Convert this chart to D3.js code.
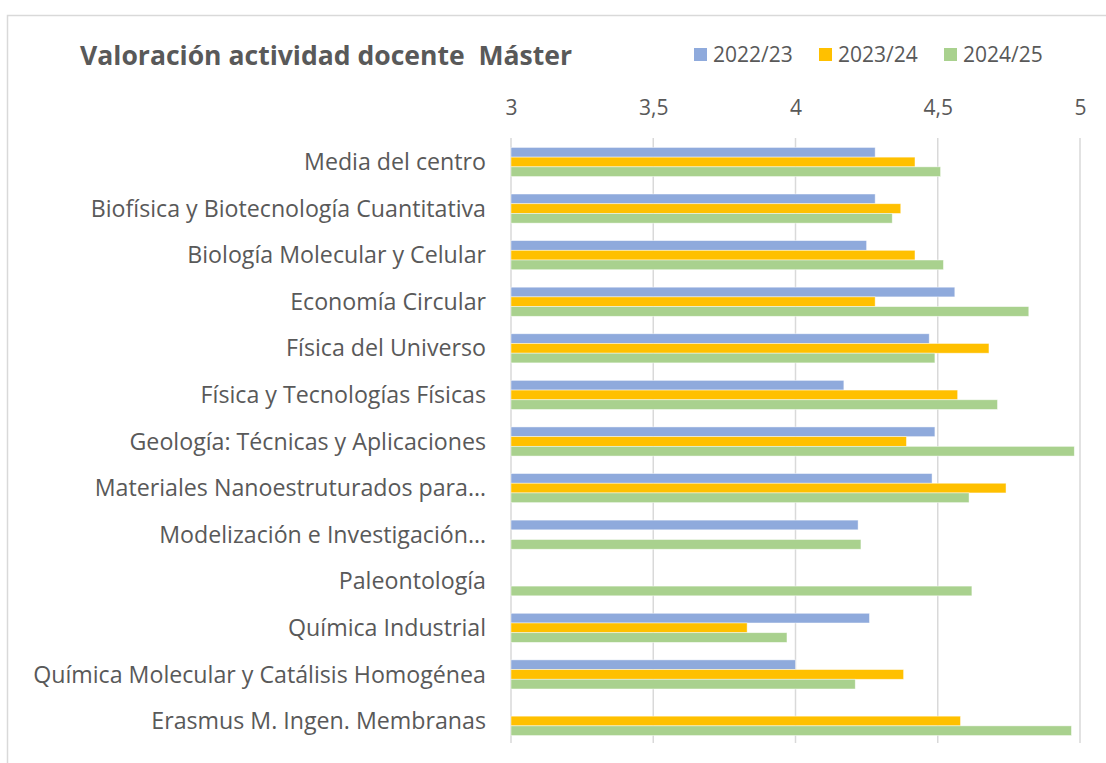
<!DOCTYPE html>
<html>
<head>
<meta charset="utf-8">
<script src="https://cdn.jsdelivr.net/npm/d3@7"></script>
<style>
  body { margin: 0; background: #fff; }
  svg text { font-family: "Open Sans", "Noto Sans", sans-serif; fill: #595959; }
</style>
</head>
<body>
<svg id="chart" width="1106" height="763"></svg>
<script>
// categorias (de arriba a abajo)
var categorias = [
  "Media del centro",
  "Biofísica y Biotecnología Cuantitativa",
  "Biología Molecular y Celular",
  "Economía Circular",
  "Física del Universo",
  "Física y Tecnologías Físicas",
  "Geología: Técnicas y Aplicaciones",
  "Materiales Nanoestruturados para…",
  "Modelización e Investigación…",
  "Paleontología",
  "Química Industrial",
  "Química Molecular y Catálisis Homogénea",
  "Erasmus M. Ingen. Membranas"
];
var cursos = ["2022/23", "2023/24", "2024/25"];
var curso_2022 = [4.28, 4.28, 4.25, 4.56, 4.47, 4.17, 4.49, 4.48, 4.22, null, 4.26, 4.00, null];
var curso_2023 = [4.42, 4.37, 4.42, 4.28, 4.68, 4.57, 4.39, 4.74, null, null, 3.83, 4.38, 4.58];
var curso_2024 = [4.51, 4.34, 4.52, 4.82, 4.49, 4.71, 4.98, 4.61, 4.23, 4.62, 3.97, 4.21, 4.97];
var ticks = [3, 3.5, 4, 4.5, 5];
var colores = ["#8FAADC", "#FFC000", "#A9D18E"];

var series = [curso_2022, curso_2023, curso_2024];

var svg = d3.select("#chart");

// marco del grafico
svg.append("rect")
  .attr("x", 7.5).attr("y", 15.5)
  .attr("width", 1110).attr("height", 760)
  .attr("fill", "none")
  .attr("stroke", "#d9d9d9")
  .attr("stroke-width", 1.5);

var x = d3.scaleLinear().domain([3, 5]).range([511, 1080]);
var y = d3.scaleBand().domain(categorias).range([138.7, 744.3])
  .paddingInner(0.375).paddingOuter(0.1875);
var ySub = d3.scaleBand().domain(cursos).range([0, y.bandwidth()]);

var loc = d3.formatLocale({ decimal: ",", thousands: ".", grouping: [3], currency: ["", "€"] });
var fmt = loc.format("");

// lineas de cuadricula
svg.append("g")
  .selectAll("line")
  .data(ticks)
  .enter().append("line")
    .attr("x1", function(d) { return x(d); })
    .attr("x2", function(d) { return x(d); })
    .attr("y1", 138)
    .attr("y2", 743)
    .attr("stroke", "#d9d9d9")
    .attr("stroke-width", 1.5);

// eje superior
var ax = svg.append("g")
  .attr("transform", "translate(0,115)")
  .call(d3.axisTop(x).tickValues(ticks).tickFormat(fmt).tickSize(0).tickPadding(0));
ax.select(".domain").remove();
ax.selectAll("text")
  .attr("font-size", "21px")
  .style("font-family", "\"Open Sans\", sans-serif")
  .attr("fill", "#595959");

// barras
series.forEach(function(vals, i) {
  svg.append("g")
    .selectAll("rect")
    .data(vals.map(function(v, j) { return { cat: categorias[j], v: v }; })
               .filter(function(d) { return d.v !== null; }))
    .enter().append("rect")
      .attr("x", x(3))
      .attr("y", function(d) { return y(d.cat) + ySub(cursos[i]); })
      .attr("width", function(d) { return x(d.v) - x(3); })
      .attr("height", ySub.bandwidth())
      .attr("fill", colores[i])
      .attr("stroke", "#ffffff")
      .attr("stroke-opacity", 0.6)
      .attr("stroke-width", 0.75);
});

// etiquetas de categorias
var labs = svg.append("g")
  .selectAll("text")
  .data(categorias)
  .enter().append("text")
    .attr("x", 486)
    .attr("y", function(d) { return y(d) + y.bandwidth() / 2; })
    .attr("dy", "0.35em")
    .attr("text-anchor", "end")
    .attr("font-size", "20px")
    .text(function(d) { return d; });

// ajustar tamaño para que la etiqueta larga mida ~453px
var largo = d3.max(labs.nodes(), function(n) { return n.getComputedTextLength(); });
labs.attr("font-size", (20 * 453 / largo).toFixed(2) + "px");

// titulo
var tit = svg.append("text")
  .attr("x", 80)
  .attr("y", 65)
  .attr("font-size", "26px")
  .attr("font-weight", "bold")
  .text("Valoración actividad docente  Máster")
  .style("white-space", "pre");
var tl = tit.node().getComputedTextLength();
tit.attr("font-size", (26 * 492 / tl).toFixed(2) + "px");

// leyenda
var legX = [694, 819, 944];
var leg = svg.append("g")
  .selectAll("g")
  .data(cursos)
  .enter().append("g")
    .attr("transform", function(d, i) { return "translate(" + legX[i] + ",0)"; });
leg.append("rect")
  .attr("x", 0).attr("y", 48)
  .attr("width", 13).attr("height", 13)
  .attr("fill", function(d, i) { return colores[i]; });
leg.append("text")
  .attr("x", 19)
  .attr("y", 62)
  .attr("font-size", "21px")
  .text(function(d) { return d; });
</script>
</body>
</html>
